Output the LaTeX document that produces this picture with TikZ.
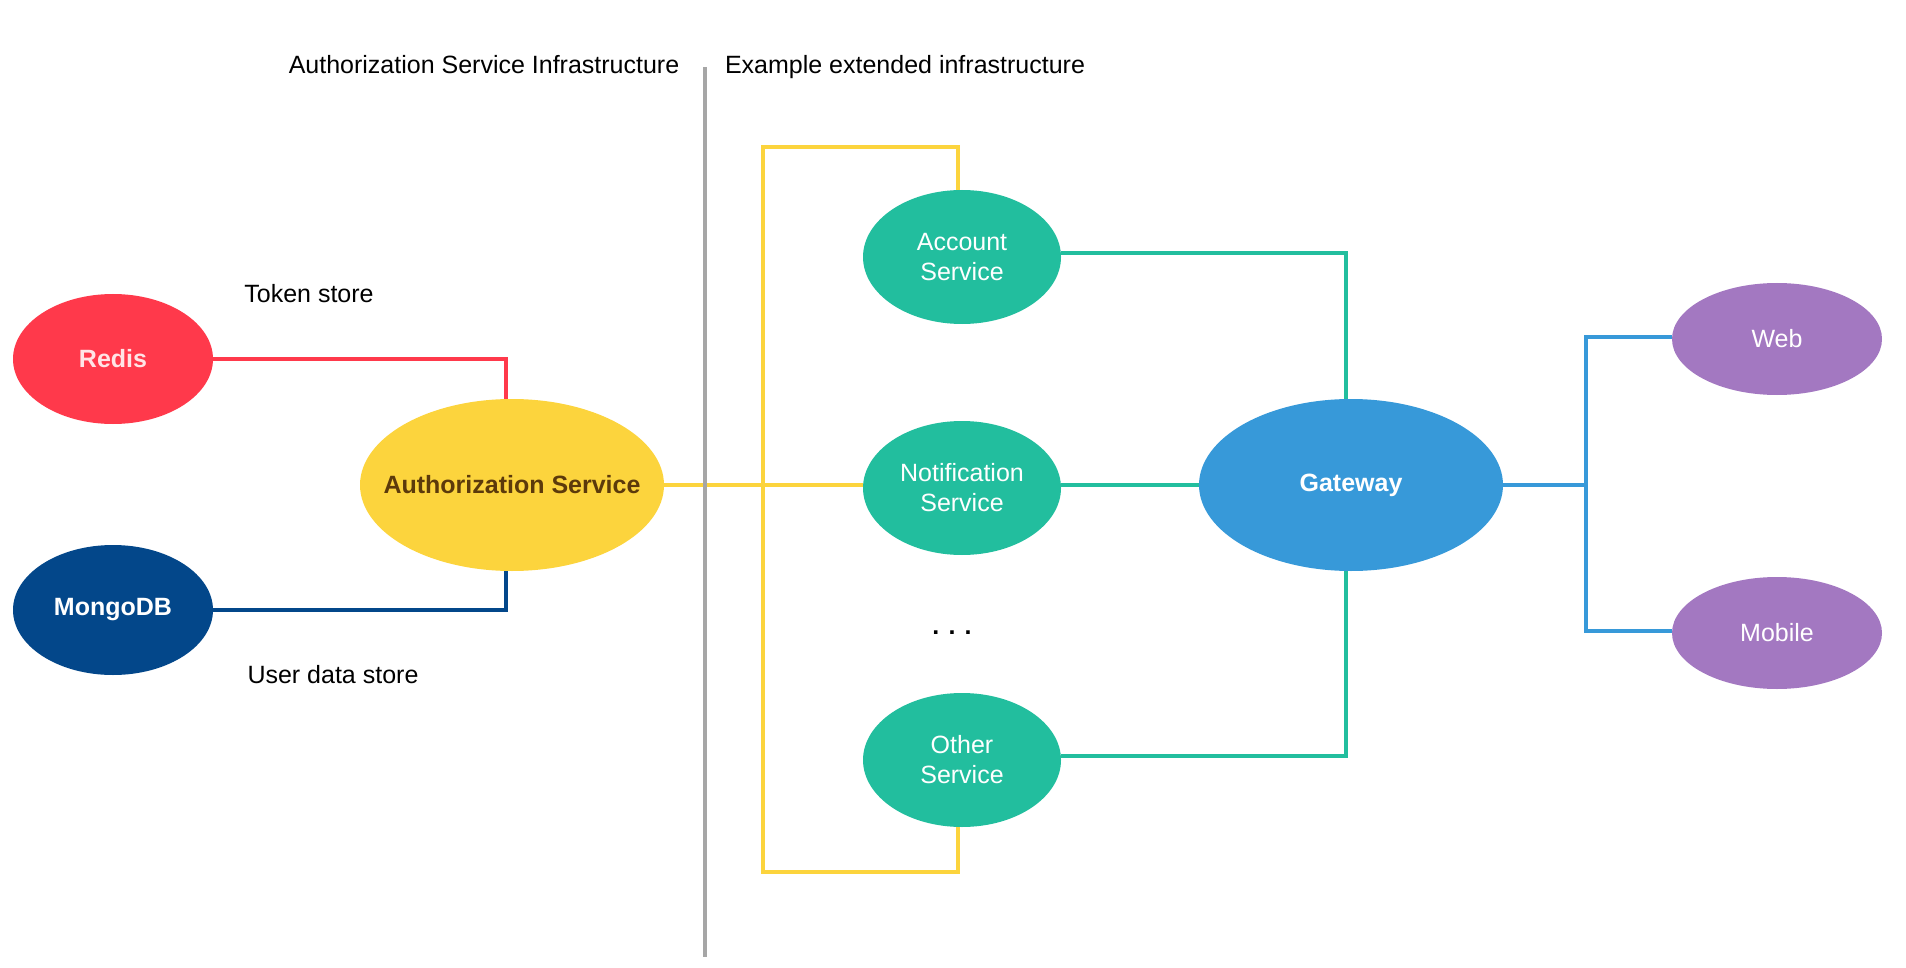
\documentclass[tikz,border=0pt]{standalone}
\usepackage{fontspec}
\setmainfont{Liberation Sans}
\usetikzlibrary{shapes.geometric, positioning}
\usepackage{xcolor}
\definecolor{rediscolor}{RGB}{255,57,75}
\definecolor{redistext}{RGB}{255,228,230}
\definecolor{mongocolor}{RGB}{3,71,138}
\definecolor{authcolor}{RGB}{252,212,61}
\definecolor{authtext}{RGB}{92,58,11}
\definecolor{servicecolor}{RGB}{34,190,158}
\definecolor{gatewaycolor}{RGB}{55,153,217}
\definecolor{clientcolor}{RGB}{163,120,193}
\definecolor{dividercolor}{RGB}{166,166,166}

\begin{document}
\begin{tikzpicture}[x=0.5pt, y=-0.5pt]
  \tikzset{
    blob/.style={
      ellipse,
      inner sep=0pt,
      align=center,
      text=white,
      font=\fontsize{12.5}{15}\selectfont
    },
    store/.style={
      blob,
      minimum width=100pt,
      minimum height=65pt,
      font=\fontsize{12.5}{15}\selectfont\bfseries
    },
    hub/.style={
      blob,
      inner xsep=-14pt,
      minimum width=152pt,
      minimum height=86pt,
      font=\fontsize{12.5}{15}\selectfont\bfseries
    },
    service/.style={
      blob,
      minimum width=99pt,
      minimum height=67pt,
      fill=servicecolor
    },
    client/.style={
      blob,
      minimum width=105pt,
      minimum height=56pt,
      fill=clientcolor
    },
    caption/.style={
      anchor=base,
      inner sep=0pt,
      font=\fontsize{12.5}{15}\selectfont
    },
    link/.style={
      line width=1.75pt
    }
  }
  \useasboundingbox (0,0) rectangle (1906,968);

  % Section titles
  \node[caption] at (484,74) (authtitle) {Authorization Service Infrastructure};
  \node[caption] at (905,74) (exttitle) {Example extended infrastructure};

  % Data stores
  \node[store, fill=rediscolor, text=redistext] at (113,359) (redis) {Redis};
  \node[store, fill=mongocolor] at (113,610) (mongo) {MongoDB};
  \node[caption] at (309,303) (tokenlabel) {Token store};
  \node[caption] at (333,683) (userlabel) {User data store};

  % Authorization service
  \node[hub, fill=authcolor, text=authtext] at (512,485) (auth) {Authorization Service};

  % Services
  \node[service] at (962,257) (account) {Account\\Service};
  \node[service] at (962,488) (notif) {Notification\\Service};
  \node[caption, font=\fontsize{12.5}{15}\selectfont\bfseries] at (952,634) (more) {. . .};
  \node[service] at (962,760) (other) {Other\\Service};

  % Gateway and clients
  \node[hub, fill=gatewaycolor] at (1351,485) (gateway) {Gateway};
  \node[client] at (1777,339) (web) {Web};
  \node[client] at (1777,633) (mobile) {Mobile};

  % Store connections
  \draw[link, rediscolor] (redis.east) -| ([xshift=-3pt]auth.north);
  \draw[link, mongocolor] (mongo.east) -| ([xshift=-3pt]auth.south);

  % Service bus
  \coordinate (bustop) at (763,147);
  \coordinate (busbot) at (763,872);
  \draw[link, authcolor] (auth.east) -- (auth.east -| notif.west);
  \draw[link, authcolor] ([xshift=-2pt]account.north) |- (bustop) -- (busbot) -| ([xshift=-2pt]other.south);

  % Gateway connections
  \draw[link, servicecolor] ([yshift=2pt]account.east) -| ([xshift=-2.5pt]gateway.north);
  \draw[link, servicecolor] ([yshift=1.5pt]notif.east) -- (gateway.west);
  \draw[link, servicecolor] ([yshift=2pt]other.east) -| ([xshift=-2.5pt]gateway.south);

  % Client connections
  \coordinate (split) at (1586,485);
  \draw[link, gatewaycolor] (gateway.east) -- (split);
  \draw[link, gatewaycolor] (split) |- ([yshift=1pt]web.west);
  \draw[link, gatewaycolor] (split) |- ([yshift=1pt]mobile.west);

  % Divider
  \coordinate (divtop) at (705,67);
  \coordinate (divbot) at (705,957);
  \draw[line width=2pt, dividercolor] (divtop) -- (divbot);
\end{tikzpicture}
\end{document}
